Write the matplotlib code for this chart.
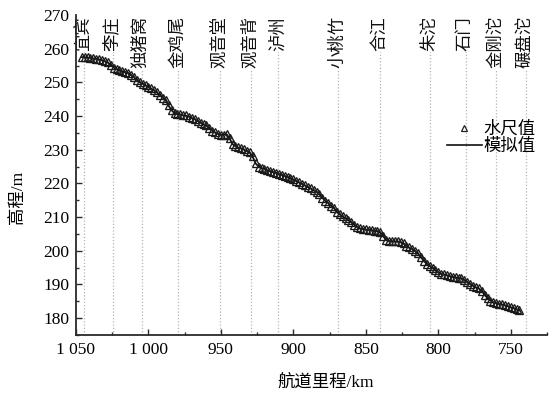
import matplotlib
matplotlib.use('Agg')
import matplotlib.pyplot as plt
from matplotlib.ticker import FixedLocator, FixedFormatter, MultipleLocator
from matplotlib.lines import Line2D

plt.rcParams['font.family'] = ['Liberation Serif', 'Noto Sans CJK SC']
plt.rcParams['axes.unicode_minus'] = False

# ---------------- data ----------------
mileage_km = [
    1046, 1044, 1042, 1040, 1038, 1036, 1034, 1032, 1030, 1028,
    1026, 1024, 1022, 1020, 1018, 1016, 1014, 1012, 1010, 1008,
    1006, 1004, 1002, 1000, 998, 996, 994, 992, 990, 988,
    986, 984, 982, 980, 978, 976, 974, 972, 970, 968,
    966, 964, 962, 960, 958, 956, 954, 952, 950, 948,
    946, 944, 942, 940, 938, 936, 934, 932, 930, 928,
    926, 924, 922, 920, 918, 916, 914, 912, 910, 908,
    906, 904, 902, 900, 898, 896, 894, 892, 890, 888,
    886, 884, 882, 880, 878, 876, 874, 872, 870, 868,
    866, 864, 862, 860, 858, 856, 854, 852, 850, 848,
    846, 844, 842, 840, 838, 836, 834, 832, 830, 828,
    826, 824, 822, 820, 818, 816, 814, 812, 810, 808,
    806, 804, 802, 800, 798, 796, 794, 792, 790, 788,
    786, 784, 782, 780, 778, 776, 774, 772, 770, 768,
    766, 764, 762, 760, 758, 756, 754, 752, 750, 748,
    746, 744,
]

gauge_level = [
    257.6, 257.5, 257.4, 257.3, 257.2, 257.0, 256.9, 256.7, 256.4, 256.0,
    255.2, 254.4, 254.0, 253.6, 253.3, 253.2, 252.9, 252.2, 251.5, 250.8,
    250.1, 249.6, 249.2, 248.6, 248.2, 247.6, 247.0, 246.2, 245.5, 244.8,
    243.2, 241.8, 240.8, 240.6, 240.5, 240.3, 240.2, 239.8, 239.5, 239.2,
    238.6, 238.0, 237.6, 237.2, 236.5, 235.6, 235.2, 234.8, 234.4, 234.5,
    234.8, 233.5, 231.8, 231.0, 230.7, 230.4, 230.1, 229.7, 229.2, 228.0,
    226.0, 225.0, 224.6, 224.3, 224.0, 223.7, 223.5, 223.2, 222.9, 222.6,
    222.3, 222.0, 221.5, 221.2, 220.8, 220.3, 219.9, 219.4, 219.0, 218.5,
    218.0, 217.5, 216.8, 215.8, 214.9, 214.2, 213.4, 212.8, 211.6, 210.8,
    210.2, 209.6, 209.1, 208.6, 207.8, 207.0, 206.7, 206.5, 206.4, 206.3,
    206.2, 206.0, 205.9, 205.6, 204.4, 203.2, 203.0, 202.9, 202.9, 202.8,
    202.7, 202.2, 201.5, 201.0, 200.5, 200.0, 199.2, 198.2, 197.0, 196.2,
    195.6, 195.0, 194.2, 193.6, 193.2, 193.0, 192.8, 192.5, 192.3, 192.1,
    192.0, 191.8, 191.4, 190.8, 190.2, 189.6, 189.2, 188.9, 188.2, 187.0,
    186.0, 185.2, 184.8, 184.5, 184.3, 184.1, 183.9, 183.6, 183.3, 183.0,
    182.7, 182.4,
]

model_level = [
    257.5, 257.5, 257.3, 257.3, 257.1, 257.0, 256.8, 256.6, 256.3, 255.9,
    255.1, 254.5, 254.0, 253.5, 253.3, 253.1, 252.8, 252.1, 251.5, 250.7,
    250.0, 249.6, 249.1, 248.6, 248.1, 247.5, 246.9, 246.2, 245.4, 244.6,
    243.0, 241.7, 240.8, 240.5, 240.5, 240.2, 240.1, 239.8, 239.4, 239.1,
    238.5, 238.0, 237.5, 237.1, 236.4, 235.6, 235.1, 234.7, 234.4, 234.6,
    234.6, 233.3, 231.7, 231.0, 230.6, 230.4, 230.0, 229.6, 229.1, 227.8,
    225.9, 225.0, 224.5, 224.3, 223.9, 223.7, 223.4, 223.2, 222.8, 222.6,
    222.2, 222.0, 221.4, 221.2, 220.7, 220.3, 219.8, 219.4, 218.9, 218.5,
    217.9, 217.5, 216.7, 215.8, 214.8, 214.2, 213.3, 212.7, 211.5, 210.8,
    210.1, 209.6, 209.0, 208.5, 207.7, 207.0, 206.6, 206.5, 206.3, 206.3,
    206.1, 206.0, 205.8, 205.5, 204.3, 203.2, 202.9, 202.9, 202.8, 202.8,
    202.6, 202.1, 201.5, 200.9, 200.5, 199.9, 199.1, 198.1, 197.0, 196.1,
    195.5, 194.9, 194.1, 193.6, 193.1, 193.0, 192.7, 192.5, 192.2, 192.1,
    191.9, 191.7, 191.3, 190.7, 190.1, 189.6, 189.1, 188.8, 188.1, 186.9,
    185.9, 185.2, 184.7, 184.5, 184.2, 184.1, 183.8, 183.6, 183.2, 183.0,
    182.6, 182.3,
]

station_names = ['宜宾', '李庄', '独猪窝', '金鸡尾', '观音堂', '观音背', '泸州',
                 '小桃竹', '合江', '朱沱', '石门', '金刚沱', '碾盘沱']
station_km = [1044.5, 1024.7, 1004.7, 979.5, 950.7, 929.5, 910.5,
              869.1, 840.3, 805.4, 781.2, 759.9, 739.7]

xtick_values = [1050, 1000, 950, 900, 850, 800, 750]
xtick_labels = ['1 050', '1 000', '950', '900', '850', '800', '750']
ytick_values = [180, 190, 200, 210, 220, 230, 240, 250, 260, 270]
ytick_labels = ['180', '190', '200', '210', '220', '230', '240', '250', '260', '270']

# ---------------- figure ----------------
W, H = 557, 397
fig = plt.figure(figsize=(W / 100, H / 100), dpi=100)
ax = fig.add_axes([76 / W, 1 - 335 / H, 471 / W, 320 / H])
ax.set_xlim(1050, 725)
ax.set_ylim(175, 270)

spine_color = '#2a2a2a'
for s in ['top', 'right']:
    ax.spines[s].set_visible(False)
for s in ['left', 'bottom']:
    ax.spines[s].set_color(spine_color)
    ax.spines[s].set_linewidth(1.3)

ax.xaxis.set_major_locator(FixedLocator(xtick_values))
ax.xaxis.set_major_formatter(FixedFormatter(xtick_labels))
ax.xaxis.set_minor_locator(MultipleLocator(25))
ax.yaxis.set_major_locator(FixedLocator(ytick_values))
ax.yaxis.set_major_formatter(FixedFormatter(ytick_labels))
ax.yaxis.set_minor_locator(MultipleLocator(5))
ax.tick_params(which='both', direction='in', color=spine_color, width=1.0)
ax.tick_params(which='major', length=4, labelsize=12.5, pad=5)
ax.tick_params(which='minor', length=2)

# station reference lines and names
for name, km in zip(station_names, station_km):
    ax.axvline(km, color='#b5b5b5', lw=0.9, ls=(0, (1, 1.6)), zorder=1)
    ax.text(km, 269.7, name, rotation=90, ha='center', va='top',
            fontsize=12.5, color='#111111', zorder=2,
            bbox=dict(boxstyle='square,pad=0.1', fc='white', ec='none'))

# data
ax.plot(mileage_km, model_level, color='#111111', lw=1.3, zorder=3)
ax.plot(mileage_km, gauge_level, ls='none', marker='^', ms=6,
        mfc='none', mec='#1a1a1a', mew=0.95, zorder=4)

# legend
handles = [
    Line2D([], [], ls='none', marker='^', ms=4.5, mfc='none', mec='#222222', mew=0.9),
    Line2D([], [], color='#111111', lw=1.2),
]
fig.legend(handles, ['水尺值', '模拟值'], loc='center left',
           bbox_to_anchor=(447 / W, 1 - 138 / H), bbox_transform=fig.transFigure,
           frameon=False, fontsize=12.5, borderpad=0, borderaxespad=0,
           handlelength=2.0, handletextpad=0.1, labelspacing=0.05, numpoints=1)

# axis titles
fig.text(326 / W, 1 - 383 / H, '航道里程/km', ha='center', va='center', fontsize=12.5)
fig.text(18 / W, 1 - 197 / H, '高程/m', ha='center', va='center', rotation=90, fontsize=12.5)

fig.savefig('out.png', dpi=100)
